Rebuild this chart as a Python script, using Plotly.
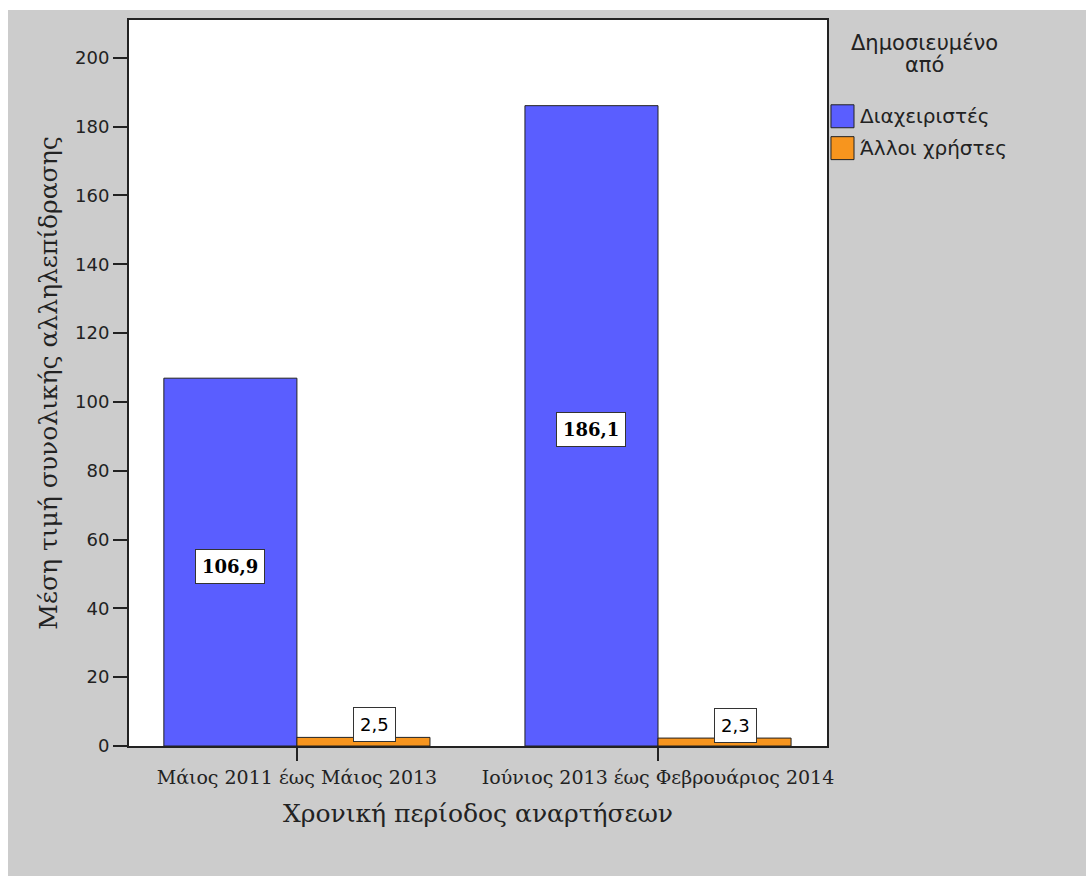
import plotly.graph_objects as go

categories = ["Μάιος 2011 έως Μάιος 2013", "Ιούνιος 2013 έως Φεβρουάριος 2014"]
admins = [106.9, 186.1]
others = [2.5, 2.3]
series_names = ["Διαχειριστές", "Άλλοι χρήστες"]
legend_title = ["Δημοσιευμένο", "από"]
y_ticks = [0, 20, 40, 60, 80, 100, 120, 140, 160, 180, 200]

BLUE = "#5a5eff"
ORANGE = "#f7951e"
GRAY = "#cccccc"
DARK = "#222222"

fig = go.Figure()
fig.add_trace(go.Bar(x=categories, y=admins, name=series_names[0],
                     marker=dict(color=BLUE, line=dict(color=DARK, width=1)),
                     showlegend=False, hoverinfo="skip"))
fig.add_trace(go.Bar(x=categories, y=others, name=series_names[1],
                     marker=dict(color=ORANGE, line=dict(color=DARK, width=1)),
                     showlegend=False, hoverinfo="skip"))

def fmt(v):
    return f"{v:.1f}".replace(".", ",")

bar_off = 0.3685 / 2
ann = []
for i, c in enumerate(categories):
    ann.append(dict(x=i - bar_off, y=admins[i] / 2, xref="x", yref="y", text=fmt(admins[i]),
                    showarrow=False, yshift=-4,
                    font=dict(family="DejaVu Serif", size=18, color="black", weight="bold"),
                    bgcolor="white", bordercolor="#333333", borderwidth=1, borderpad=6))
    ann.append(dict(x=i + bar_off, y=others[i], xref="x", yref="y", text=fmt(others[i]),
                    showarrow=False, yanchor="bottom", yshift=-5, xshift=11,
                    font=dict(family="DejaVu Sans", size=18, color="black"),
                    bgcolor="white", bordercolor="#333333", borderwidth=1, borderpad=6))

# legend (manual)
for txt, yp in zip(legend_title, [0.968, 0.938]):
    ann.append(dict(x=1.1404, y=yp, xref="paper", yref="paper", text=txt,
                    showarrow=False, xanchor="center", yanchor="middle",
                    font=dict(family="DejaVu Sans", size=21, color="#222222")))
shapes = []
sw = [(0.8832, 0.8516), (0.8393, 0.8077)]
cols = [BLUE, ORANGE]
for k in range(2):
    shapes.append(dict(type="rect", xref="paper", yref="paper", x0=1.0057, x1=1.0387,
                       y0=sw[k][1], y1=sw[k][0], fillcolor=cols[k],
                       line=dict(color=DARK, width=1)))
    ann.append(dict(x=1.0444, y=(sw[k][0] + sw[k][1]) / 2, xref="paper", yref="paper",
                    text=series_names[k], showarrow=False, xanchor="left", yanchor="middle",
                    font=dict(family="DejaVu Sans", size=20, color="#222222")))

fig.update_layout(
    width=1078, height=866,
    margin=dict(l=121, r=259, t=8, b=130),
    paper_bgcolor=GRAY, plot_bgcolor="white",
    barmode="group", bargap=0.263, bargroupgap=0,
    annotations=ann, shapes=shapes,
    showlegend=False,
)
fig.update_xaxes(range=[-0.465, 1.468], showline=True, mirror=True, linecolor=DARK, linewidth=2,
                 ticks="outside", ticklen=13, tickcolor=DARK, tickwidth=2,
                 tickfont=dict(family="DejaVu Serif", size=19, color="#222222"),
                 title=dict(text="Χρονική περίοδος αναρτήσεων",
                            font=dict(family="DejaVu Serif", size=25, color="#222222"), standoff=18),
                 showgrid=False)
fig.update_yaxes(range=[0, 211], tickvals=y_ticks, showline=True, mirror=True, linecolor=DARK,
                 linewidth=2, ticks="outside", ticklen=14, tickcolor=DARK, tickwidth=2,
                 tickfont=dict(family="DejaVu Sans", size=18, color="#222222"),
                 title=dict(text="Μέση τιμή συνολικής αλληλεπίδρασης",
                            font=dict(family="DejaVu Serif", size=25, color="#222222"), standoff=10),
                 showgrid=False, zeroline=False)

fig.write_html("out.html", config={"displayModeBar": False},
               post_script="document.body.style.margin='10px 0 0 8px';document.body.style.overflow='hidden';")
